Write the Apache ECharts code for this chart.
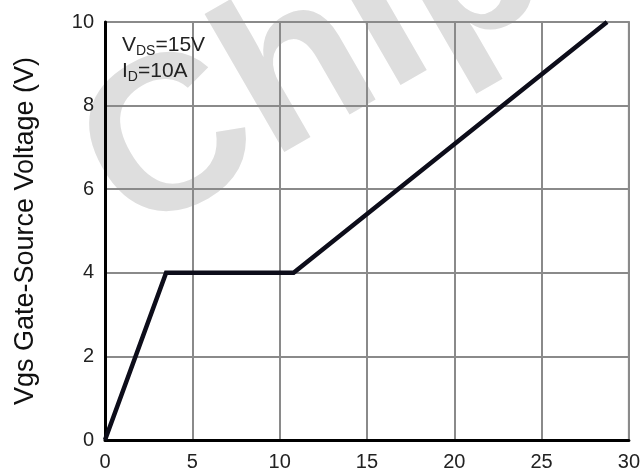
<!DOCTYPE html>
<html>
<head>
<meta charset="utf-8">
<script src="https://cdn.jsdelivr.net/npm/echarts@6/dist/echarts.min.js"></script>
<style>
  html, body { margin: 0; padding: 0; background: #fff; }
  #chart { width: 643px; height: 475px; }
</style>
</head>
<body>
<div id="chart"></div>
<script>
// Data
const gateCharge = [0, 3.5, 10.8, 28.75];   // Qg (nC)
const vgsValues  = [0, 4, 4, 10];           // Vgs (V)
const xTicks = [0, 5, 10, 15, 20, 25, 30];
const yTicks = [0, 2, 4, 6, 8, 10];
const yAxisTitle = 'Vgs Gate-Source Voltage (V)';
const noteLines = [['V', 'DS', '=15V'], ['I', 'D', '=10A']];
const watermark = 'Chip';

const FONT = '"Liberation Sans", Arial, sans-serif';
const chart = echarts.init(document.getElementById('chart'), null, { renderer: 'canvas' });

const noteText = noteLines.map(l => l[0] + '{sub|' + l[1] + '}' + l[2]).join('\n');

chart.setOption({
  backgroundColor: '#ffffff',
  animation: false,
  grid: {
    left: 105, right: 13, top: 22, bottom: 35,
    show: true, borderColor: '#8a8a8a', borderWidth: 2, backgroundColor: 'transparent'
  },
  xAxis: {
    type: 'value', min: xTicks[0], max: xTicks[xTicks.length - 1], interval: 5,
    axisLine: { show: true, onZero: false, lineStyle: { color: '#000', width: 3 } },
    axisTick: { show: false },
    axisLabel: { fontFamily: FONT, fontSize: 20, color: '#222', margin: 12 },
    splitLine: { show: true, lineStyle: { color: '#8a8a8a', width: 2 } }
  },
  yAxis: {
    type: 'value', min: yTicks[0], max: yTicks[yTicks.length - 1], interval: 2,
    name: yAxisTitle, nameLocation: 'middle', nameGap: 66,
    nameTextStyle: { fontFamily: FONT, fontSize: 27, color: '#111' },
    axisLine: { show: true, onZero: false, lineStyle: { color: '#000', width: 3 } },
    axisTick: { show: false },
    axisLabel: { fontFamily: FONT, fontSize: 20, color: '#222', margin: 11 },
    splitLine: { show: true, lineStyle: { color: '#8a8a8a', width: 2 } }
  },
  graphic: [
    {
      type: 'text', z: -10, x: 158, y: 282, rotation: 30 * Math.PI / 180,
      style: {
        text: watermark, fontFamily: FONT, fontSize: 220, fontWeight: 'bold',
        fill: '#dedede', textAlign: 'left', textVerticalAlign: 'bottom'
      }
    },
    {
      type: 'text', z: 10, left: 122, top: 32,
      style: {
        text: noteText, fontFamily: FONT, fontSize: 21, lineHeight: 26, fill: '#222',
        rich: { sub: { fontFamily: FONT, fontSize: 14, lineHeight: 14, verticalAlign: 'bottom', fill: '#222' } }
      }
    }
  ],
  series: [{
    type: 'line',
    data: gateCharge.map((x, i) => [x, vgsValues[i]]),
    showSymbol: false, symbol: 'none',
    lineStyle: { color: '#0d0d1a', width: 4.5, join: 'miter' },
    z: 5
  }]
});
</script>
</body>
</html>
